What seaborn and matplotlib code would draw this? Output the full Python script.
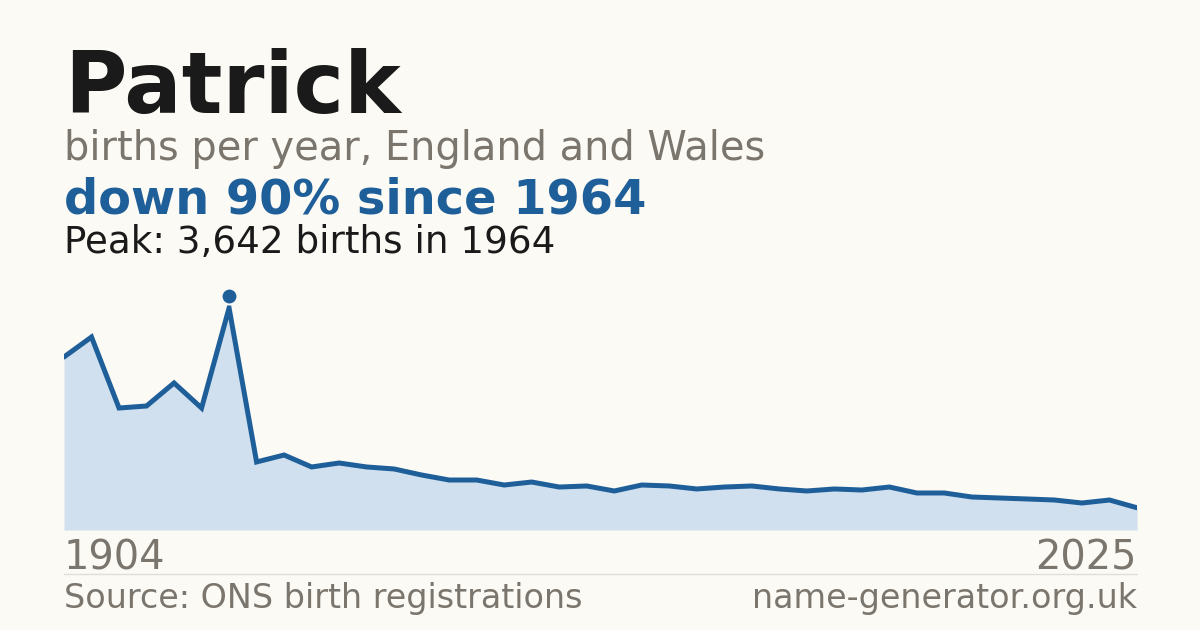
import os
import pandas as pd
import matplotlib
import matplotlib.pyplot as plt
import seaborn as sns
from matplotlib.font_manager import FontProperties
from matplotlib.transforms import offset_copy

# Data
years = [1904, 1914, 1924, 1934, 1944, 1954, 1964, 1974, 1984, 1994,
         1996, 1997, 1998, 1999, 2000, 2001, 2002, 2003, 2004, 2005,
         2006, 2007, 2008, 2009, 2010, 2011, 2012, 2013, 2014, 2015,
         2016, 2017, 2018, 2019, 2020, 2021, 2022, 2023, 2024, 2025]
births = [2838, 3166, 2001, 2034, 2412, 2001, 3642, 1116, 1230, 1034,
          1099, 1034, 1001, 902, 820, 820, 738, 787, 705, 722,
          640, 738, 722, 673, 705, 722, 673, 640, 673, 656,
          705, 607, 607, 541, 525, 509, 492, 443, 492, 365]

name = "Patrick"
subtitle = "births per year, England and Wales"
headline = "down 90% since 1964"
source = "Source: ONS birth registrations"
site = "name-generator.org.uk"

df = pd.DataFrame({"year": years, "births": births})
df["pos"] = range(len(df))

bg = "#fbfaf5"
blue = "#1f5f99"
fill = "#d0e0ef"
grey = "#7a756d"
ink = "#1a1a1a"

sns.set_style("white")
plt.rcParams['font.family'] = ['DejaVu Sans']

# point straight at the DejaVu files so nothing gets substituted
ttf = os.path.join(matplotlib.get_data_path(), "fonts", "ttf")
reg = os.path.join(ttf, "DejaVuSans.ttf")
bold = os.path.join(ttf, "DejaVuSans-Bold.ttf")


def font(size, heavy=False):
    return FontProperties(fname=bold if heavy else reg, size=size)


fig = plt.figure(figsize=(12, 6.3), dpi=100, facecolor=bg)
ax = fig.add_axes([64 / 1200, 100 / 630, (1137 - 64) / 1200, 250 / 630])
ax.set_facecolor(bg)

peak_i = df["births"].idxmax()
peak = df.loc[peak_i]

ax.fill_between(df["pos"], df["births"], 0, color=fill, lw=0)
sns.lineplot(data=df, x="pos", y="births", ax=ax, color=blue, lw=3.6,
             solid_joinstyle="miter")
mark_tr = offset_copy(ax.transData, fig=fig, x=0, y=12, units="dots")
ax.plot(peak["pos"], peak["births"], "o", ms=11.5, color=blue,
        mec=bg, mew=1.5, transform=mark_tr, clip_on=False)

ax.set_xlim(0, len(df) - 1)
ax.set_ylim(0, df["births"].max() * 1.126)
ax.set_axis_off()

# Titles
fig.text(64 / 1200, 1 - 113 / 630, name, fontproperties=font(61.3, True),
         color=ink, va="baseline")
fig.text(64 / 1200, 1 - 160 / 630, subtitle, fontproperties=font(28.7),
         color=grey, va="baseline")
fig.text(64 / 1200, 1 - 214 / 630, headline, fontproperties=font(34.5, True),
         color=blue, va="baseline")
fig.text(64 / 1200, 1 - 253 / 630,
         f"Peak: {int(peak['births']):,} births in {int(peak['year'])}",
         fontproperties=font(26.8), color=ink, va="baseline")

# Axis end labels
fig.text(64 / 1200, 1 - 570 / 630, str(years[0]), fontproperties=font(28.7),
         color=grey, va="baseline")
fig.text(1137 / 1200, 1 - 570 / 630, str(years[-1]),
         fontproperties=font(28.7), color=grey, va="baseline", ha="right")

# Separator and footer
fig.add_artist(plt.Line2D([64 / 1200, 1137 / 1200], [1 - 574 / 630] * 2,
                          color="#e0ded8", lw=1))
fig.text(64 / 1200, 1 - 608 / 630, source, fontproperties=font(24),
         color=grey, va="baseline")
fig.text(1137 / 1200, 1 - 608 / 630, site, fontproperties=font(24),
         color=grey, va="baseline", ha="right")

fig.savefig("out.png", dpi=100, facecolor=bg)
